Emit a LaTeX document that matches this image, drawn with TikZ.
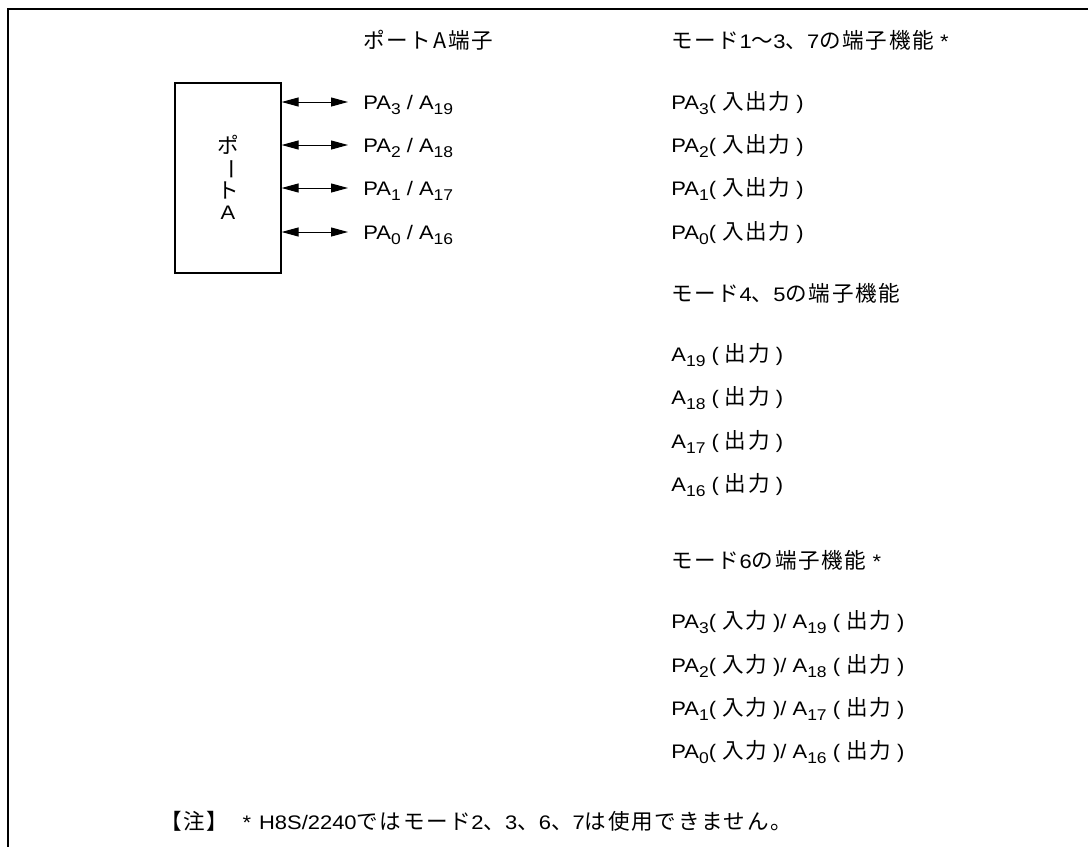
\documentclass[tikz,border=0pt]{standalone}
\usepackage{fontspec}
\setmainfont{Liberation Sans}[FakeStretch=1.12]
\newfontfamily\jp{Noto Sans CJK JP}[Scale=1.1,LetterSpace=8]
\usetikzlibrary{arrows.meta}
\newcommand{\pinsub}[1]{\raisebox{-2.5pt}{\fontsize{7.8}{8}\selectfont #1}}

\begin{document}
\begin{tikzpicture}[x=0.5pt, y=-0.5pt, every node/.style={font=\fontsize{9.8}{10.3}\selectfont, inner sep=0pt},
  lbl/.style={anchor=base west},
  bidir/.style={line width=0.5pt, {Triangle[length=8.5pt,width=4.5pt]}-{Triangle[length=8.5pt,width=4.5pt]}}]
\useasboundingbox (0,0) rectangle (1088,847);
\draw[line width=1pt] (1088,9) -- (8,9) -- (8,847);

\node[draw,line width=0.6pt,minimum width=53pt,minimum height=95pt] (port) at (228,178) {};
\node[align=center] (portlbl) at (228,177) {{\jp ポ}\\\rotatebox[origin=c]{-90}{\jp ー}\\{\jp ト}\\A};

\node[lbl] (hdrA) at (363,48) {{\jp ポートA端子}};

\coordinate (e3) at (348,102);
\coordinate (e2) at (348,145);
\coordinate (e1) at (348,188);
\coordinate (e0) at (348,232);
\draw[bidir] (port.east |- e3) -- (e3);
\draw[bidir] (port.east |- e2) -- (e2);
\draw[bidir] (port.east |- e1) -- (e1);
\draw[bidir] (port.east |- e0) -- (e0);
\node[lbl] (pin3) at (363,109) {PA\pinsub{3} / A\pinsub{19}};
\node[lbl] (pin2) at (363,152) {PA\pinsub{2} / A\pinsub{18}};
\node[lbl] (pin1) at (363,195) {PA\pinsub{1} / A\pinsub{17}};
\node[lbl] (pin0) at (363,239) {PA\pinsub{0} / A\pinsub{16}};

\node[lbl] (hdr1) at (671,48) {{\jp モード}1{\jp ～}3{\jp 、}7{\jp の端子機能} *};
\node[lbl] (m1r3) at (671,109) {PA\pinsub{3}( {\jp 入出力} )};
\node[lbl] (m1r2) at (671,152) {PA\pinsub{2}( {\jp 入出力} )};
\node[lbl] (m1r1) at (671,195) {PA\pinsub{1}( {\jp 入出力} )};
\node[lbl] (m1r0) at (671,239) {PA\pinsub{0}( {\jp 入出力} )};

\node[lbl] (hdr4) at (671,301) {{\jp モード}4{\jp 、}5{\jp の端子機能}};
\node[lbl] (m4r3) at (671,361) {A\pinsub{19} ( {\jp 出力} )};
\node[lbl] (m4r2) at (671,404) {A\pinsub{18} ( {\jp 出力} )};
\node[lbl] (m4r1) at (671,448) {A\pinsub{17} ( {\jp 出力} )};
\node[lbl] (m4r0) at (671,491) {A\pinsub{16} ( {\jp 出力} )};

\node[lbl] (hdr6) at (671,568) {{\jp モード}6{\jp の端子機能} *};
\node[lbl] (m6r3) at (671,628) {PA\pinsub{3}( {\jp 入力} )/ A\pinsub{19} ( {\jp 出力} )};
\node[lbl] (m6r2) at (671,672) {PA\pinsub{2}( {\jp 入力} )/ A\pinsub{18} ( {\jp 出力} )};
\node[lbl] (m6r1) at (671,715) {PA\pinsub{1}( {\jp 入力} )/ A\pinsub{17} ( {\jp 出力} )};
\node[lbl] (m6r0) at (671,758) {PA\pinsub{0}( {\jp 入力} )/ A\pinsub{16} ( {\jp 出力} )};

\node[lbl] (note) at (160,829) {{\jp 【注】}\hspace{7pt}*\hspace{4pt}H8S/2240{\jp ではモード}2{\jp 、}3{\jp 、}6{\jp 、}7{\jp は使用できません。}};
\end{tikzpicture}
\end{document}
